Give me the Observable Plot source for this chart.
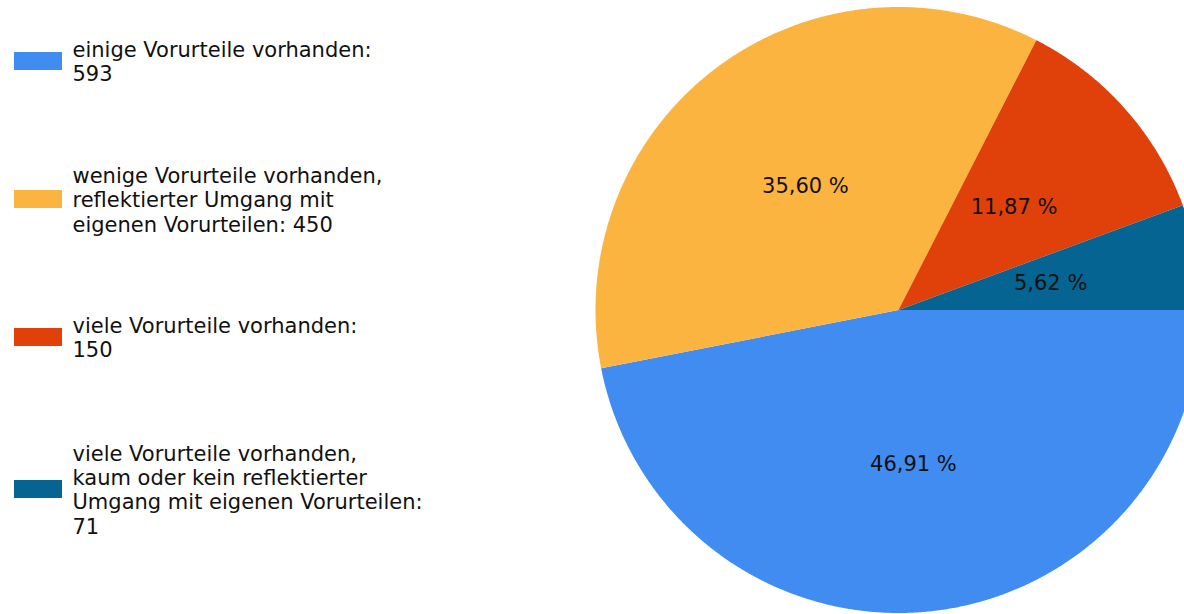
<!DOCTYPE html>
<html><head><meta charset="utf-8">
<script src="https://cdn.jsdelivr.net/npm/d3@7"></script>
<script src="https://cdn.jsdelivr.net/npm/@observablehq/plot@0.6"></script>
<style>html,body{margin:0;padding:0;background:#fff;overflow:hidden;width:1184px;height:614px}</style>
</head><body><div id="chart"></div>
<script>
// ---- data ----
const names = [
  "einige Vorurteile vorhanden",
  "wenige Vorurteile vorhanden, reflektierter Umgang mit eigenen Vorurteilen",
  "viele Vorurteile vorhanden",
  "viele Vorurteile vorhanden, kaum oder kein reflektierter Umgang mit eigenen Vorurteilen"
];
const values = [593, 450, 150, 71];
const legendLabels = [
  "einige Vorurteile vorhanden:\n593",
  "wenige Vorurteile vorhanden,\nreflektierter Umgang mit\neigenen Vorurteilen: 450",
  "viele Vorurteile vorhanden:\n150",
  "viele Vorurteile vorhanden,\nkaum oder kein reflektierter\nUmgang mit eigenen Vorurteilen:\n71"
];
const colors = ["#418CF0", "#FCB441", "#E0400A", "#056492"];

// ---- layout ----
const W = 1184, H = 614;
const cx = 898, cy = 309.5, R = 303;
const labelR = 0.51 * R;
const FONT = "DejaVu Sans";

const total = d3.sum(values);
const arcs = d3.pie().sort(null).value(d => d)(values);

// slice outlines (angles measured clockwise from 3 o'clock)
const slicePts = [];
arcs.forEach((a, i) => {
  slicePts.push({name: names[i], x: cx, y: cy});
  const n = Math.max(2, Math.ceil((a.endAngle - a.startAngle) / (Math.PI / 720)));
  for (let k = 0; k <= n; k++) {
    const t = a.startAngle + (a.endAngle - a.startAngle) * k / n;
    slicePts.push({name: names[i], x: cx + R * Math.cos(t), y: cy + R * Math.sin(t)});
  }
  slicePts.push({name: names[i], x: cx, y: cy});
});

const sliceLabels = arcs.map((a, i) => {
  const m = (a.startAngle + a.endAngle) / 2;
  return {
    text: (values[i] / total * 100).toFixed(2).replace(".", ",") + " %",
    x: cx + labelR * Math.cos(m),
    y: cy + labelR * Math.sin(m)
  };
});

// legend rows: centred blocks, spacing by line count
const lineStep = 28, gap = 68;
let yc = 61;
const legend = legendLabels.map((lab, i) => {
  const lines = lab.split("\n").length;
  if (i > 0) {
    const prevLines = legendLabels[i - 1].split("\n").length;
    yc += (prevLines + lines) / 2 * lineStep + gap;
  }
  return {name: names[i], label: lab, y: yc};
});

const chart = Plot.plot({
  width: W, height: H, margin: 0,
  x: {domain: [0, W], range: [0, W], axis: null},
  y: {domain: [0, H], range: [0, H], axis: null},
  color: {domain: names, range: colors},
  style: {fontFamily: FONT, background: "#fff", overflow: "hidden"},
  marks: [
    Plot.line(slicePts, {x: "x", y: "y", z: "name", fill: "name", stroke: null, curve: "linear"}),
    Plot.text(sliceLabels, {x: "x", y: "y", text: "text", fontSize: 21, fill: "#111", textAnchor: "middle", fontFamily: FONT}),
    Plot.rect(legend, {x1: () => 14, x2: () => 62, y1: d => d.y - 9, y2: d => d.y + 9, fill: "name"}),
    Plot.text(legend, {x: () => 72, y: "y", text: "label", fontSize: 21, lineHeight: 1.16, lineAnchor: "middle", textAnchor: "start", fill: "#111", fontFamily: FONT})
  ]
});
document.getElementById("chart").appendChild(chart);
</script>
</body></html>
